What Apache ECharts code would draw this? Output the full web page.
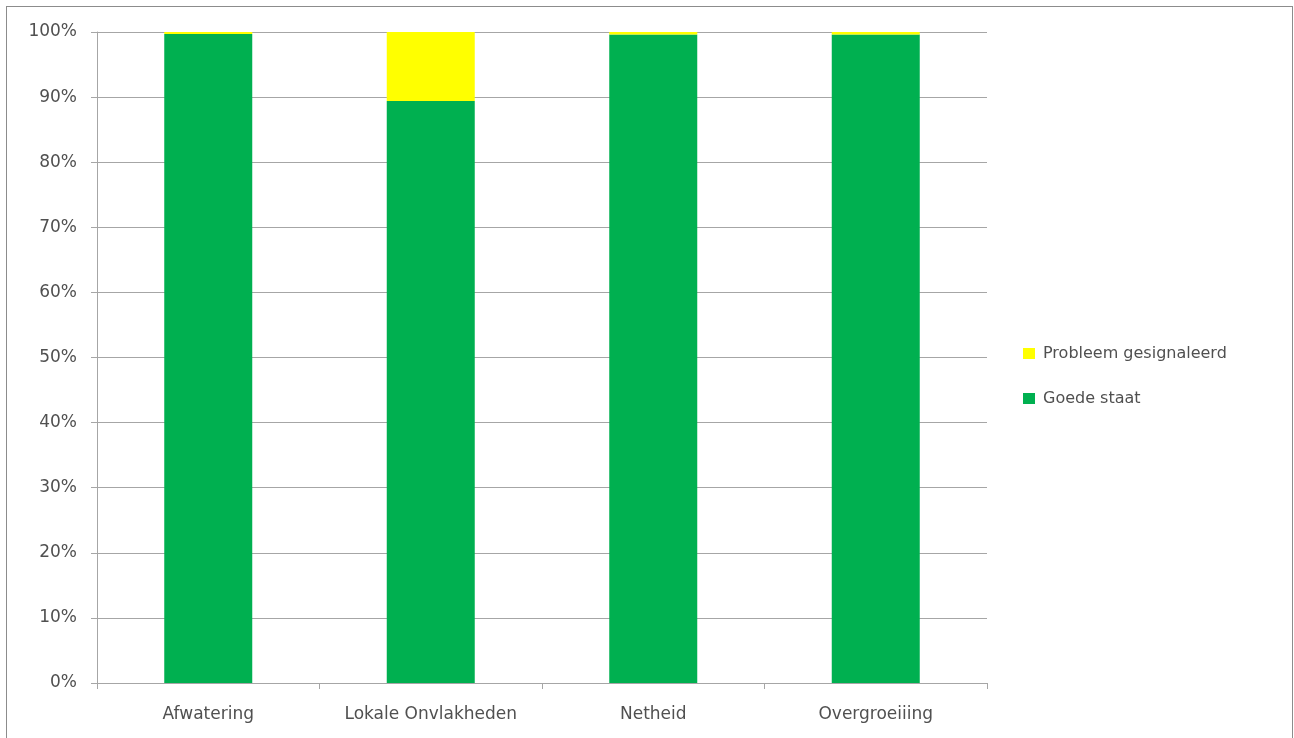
<!DOCTYPE html>
<html>
<head>
<meta charset="utf-8">
<script src="https://cdn.jsdelivr.net/npm/echarts@6/dist/echarts.min.js"></script>
<style>
  html, body { margin: 0; padding: 0; background: #fff; }
  #frame {
    position: absolute; left: 6px; top: 6px; width: 1287px; height: 760px;
    border: 1px solid #8c8c8c; border-bottom: none; box-sizing: border-box;
  }
  #chart { position: absolute; left: 0; top: 0; width: 1294px; height: 738px; }
</style>
</head>
<body>
<div id="frame"></div>
<div id="chart"></div>
<script>
// categories and values (percent)
var categories = ['Afwatering', 'Lokale Onvlakheden', 'Netheid', 'Overgroeiiing']
var goedeStaat = [99.7, 89.4, 99.6, 99.6]
var probleem = [0.3, 10.6, 0.4, 0.4]
var yTicks = [0, 10, 20, 30, 40, 50, 60, 70, 80, 90, 100]

var txt = '#505050'
var font = 'DejaVu Sans'

var myChart = echarts.init(document.getElementById('chart'))
var option = {
  animation: false,
  textStyle: { fontFamily: font },
  grid: { left: 97, right: 307, top: 32, bottom: 55 },
  legend: {
    orient: 'vertical',
    left: 1018,
    top: 340,
    itemWidth: 12,
    itemHeight: 11,
    itemGap: 28,
    icon: 'rect',
    textStyle: { color: txt, fontSize: 16, lineHeight: 17, fontFamily: font, padding: [0, 0, 0, 3] },
    data: ['Probleem gesignaleerd', 'Goede staat']
  },
  xAxis: {
    type: 'category',
    data: categories,
    axisLine: { lineStyle: { color: '#a6a6a6', width: 1 } },
    axisTick: { show: true, interval: 0, length: 6, lineStyle: { color: '#a6a6a6' } },
    axisLabel: { color: txt, fontSize: 17, margin: 23, interval: 0 }
  },
  yAxis: {
    type: 'value',
    min: yTicks[0],
    max: yTicks[yTicks.length - 1],
    interval: 10,
    axisLine: { show: true, lineStyle: { color: '#a6a6a6' } },
    axisTick: { show: true, length: 6, lineStyle: { color: '#a6a6a6' } },
    axisLabel: { color: txt, fontSize: 17, margin: 20, formatter: '{value}%' },
    splitLine: { lineStyle: { color: '#a6a6a6', width: 1 } }
  },
  series: [
    {
      name: 'Goede staat',
      type: 'bar',
      stack: 'total',
      barWidth: 88,
      itemStyle: { color: '#00b050' },
      data: goedeStaat
    },
    {
      name: 'Probleem gesignaleerd',
      type: 'bar',
      stack: 'total',
      barWidth: 88,
      itemStyle: { color: '#ffff00' },
      data: probleem
    }
  ]
}
myChart.setOption(option)
</script>
</body>
</html>
